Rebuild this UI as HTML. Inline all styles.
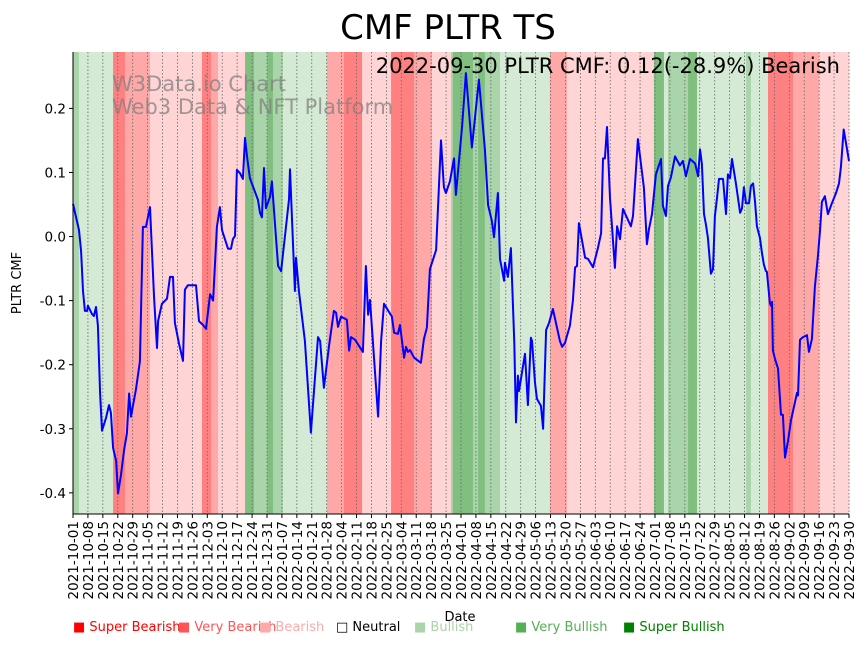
<!DOCTYPE html>
<html><head><meta charset="utf-8"><style>
body{margin:0;background:#fff;font-family:"DejaVu Sans","Liberation Sans",sans-serif}
#wrap{position:relative;width:864px;height:646px}
.leg{position:absolute;top:620px;font-size:13px;white-space:nowrap}
svg text{font-family:"DejaVu Sans","Liberation Sans",sans-serif}
</style></head><body>
<div id="wrap">
<svg id="svg" width="864" height="646" style="position:absolute;left:0;top:0"></svg>
<div class="leg" style="left:73px;color:#ff0000">■ Super Bearish</div>
<div class="leg" style="left:178px;color:#ff5555">■ Very Bearish</div>
<div class="leg" style="left:259px;color:#ffaaaa">■ Bearish</div>
<div class="leg" style="left:336px;color:#000">□ Neutral</div>
<div class="leg" style="left:414px;color:#aad4aa">■ Bullish</div>
<div class="leg" style="left:515px;color:#55b055">■ Very Bullish</div>
<div class="leg" style="left:623px;color:#008000">■ Super Bullish</div>
</div>
<script>
const startDate = '2021-10-01';
const totalDays = 364;
const yTicks = [-0.4,-0.3,-0.2,-0.1,0.0,0.1,0.2];
const dayIdx = [
0,2.8,3.8,4.7,5.6,6.6,7.0,8.9,9.8,10.8,
11.7,12.7,13.6,15.5,16.9,17.8,18.8,20.2,21.1,22.5,
23.9,25.3,26.3,27.2,29.5,31.4,32.8,34.2,36.1,38.0,
39.4,39.9,41.7,44.1,45.5,46.9,47.8,49.7,51.6,52.5,
53.9,57.7,59.1,61.0,62.4,64.3,65.7,67.5,68.9,69.9,
72.7,74.1,75.0,76.0,76.9,78.3,79.7,80.7,81.6,83.0,
86.8,87.7,88.6,89.6,90.5,92.4,93.3,95.2,96.2,97.6,
101.3,101.8,104.1,104.6,106.0,108.8,111.6,114.9,115.9,117.7,
120.1,122.4,123.4,124.3,125.7,128.5,129.5,130.4,132.3,136.0,
137.4,138.4,139.3,143.1,144.5,145.9,149.6,150.6,152.4,153.4,
155.3,156.2,157.1,158.1,160.0,163.2,164.6,166.0,167.4,170.3,
172.6,174.0,174.9,176.8,178.7,179.6,182.5,184.3,187.1,190.4,
193.2,194.7,196.5,197.5,199.3,200.3,202.2,202.6,204.0,205.4,
207.0,207.8,208.7,209.2,212.0,213.4,214.8,215.3,216.7,217.6,
219.5,220.5,221.9,223.3,225.1,228.4,229.4,230.8,233.1,234.5,
235.5,236.4,237.3,240.2,241.6,243.9,246.2,247.7,248.6,249.5,
250.5,251.9,254.2,255.2,256.6,258.0,261.7,262.7,265.0,267.8,
269.2,270.2,271.6,273.4,275.8,276.7,278.1,279.1,280.5,282.4,
284.7,286.1,287.5,289.4,291.8,293.2,294.1,295.0,296.0,296.9,
297.8,299.2,300.2,301.1,302.1,303.0,304.9,306.3,307.2,308.2,
309.1,311.0,312.9,313.8,314.7,315.7,317.1,318.0,319.0,319.9,
320.8,322.2,323.2,324.1,325.0,325.5,326.9,327.4,327.9,328.3,
329.3,330.7,332.1,333.0,334.0,335.4,336.8,338.6,339.6,340.1,
341.0,342.4,344.3,345.2,346.6,348.0,349.4,350.4,351.3,352.7,
354.1,356.0,357.9,359.3,360.2,361.5,364];
const cmfValues = [
0.051,0.010,-0.023,-0.085,-0.116,-0.116,-0.108,-0.121,-0.124,-0.110,
-0.139,-0.245,-0.303,-0.283,-0.263,-0.275,-0.330,-0.350,-0.401,-0.372,
-0.334,-0.307,-0.245,-0.281,-0.239,-0.195,0.015,0.015,0.046,-0.093,
-0.174,-0.132,-0.105,-0.097,-0.063,-0.063,-0.135,-0.167,-0.194,-0.083,
-0.076,-0.076,-0.132,-0.138,-0.144,-0.090,-0.100,0.015,0.046,0.010,
-0.019,-0.019,-0.004,0.001,0.104,0.099,0.090,0.154,0.125,0.091,
0.057,0.037,0.030,0.107,0.044,0.062,0.086,-0.002,-0.046,-0.054,
0.058,0.105,-0.085,-0.033,-0.086,-0.163,-0.306,-0.157,-0.163,-0.236,
-0.171,-0.116,-0.119,-0.141,-0.125,-0.130,-0.178,-0.157,-0.161,-0.180,
-0.046,-0.122,-0.099,-0.281,-0.163,-0.105,-0.125,-0.150,-0.152,-0.138,
-0.189,-0.172,-0.180,-0.177,-0.189,-0.197,-0.160,-0.142,-0.051,-0.021,
0.150,0.077,0.068,0.086,0.122,0.065,0.172,0.255,0.139,0.245,
0.136,0.049,0.024,-0.001,0.068,-0.035,-0.069,-0.041,-0.063,-0.018,
-0.166,-0.290,-0.217,-0.241,-0.183,-0.263,-0.158,-0.163,-0.228,-0.253,
-0.264,-0.300,-0.146,-0.135,-0.113,-0.163,-0.172,-0.166,-0.139,-0.100,
-0.048,-0.046,0.021,-0.033,-0.035,-0.048,-0.018,0.005,0.122,0.122,
0.171,0.060,-0.049,0.016,-0.004,0.043,0.016,0.032,0.152,0.076,
-0.012,0.012,0.035,0.097,0.121,0.048,0.032,0.079,0.093,0.125,
0.111,0.118,0.094,0.121,0.114,0.094,0.136,0.113,0.035,0.018,
-0.002,-0.058,-0.051,0.032,0.060,0.090,0.090,0.035,0.097,0.091,
0.121,0.082,0.037,0.044,0.077,0.052,0.052,0.079,0.083,0.055,
0.016,-0.002,-0.026,-0.044,-0.054,-0.055,-0.104,-0.108,-0.102,-0.178,
-0.191,-0.206,-0.278,-0.278,-0.345,-0.319,-0.287,-0.259,-0.244,-0.248,
-0.161,-0.157,-0.154,-0.180,-0.160,-0.078,-0.031,0.009,0.054,0.063,
0.035,0.052,0.068,0.083,0.108,0.167,0.118];
const bandStart = [0,2.8,18.8,24.4,36.1,60.5,64.7,68,80.7,84.9,91,93.8,98.5,119.1,127.1,135.6,149.2,160,168.4,177.3,178.2,187.6,190,193.2,200.3,223.7,231.7,272.5,277.2,279.1,288.5,292.7,315.7,318,326,337.7,349.9];
const bandEnd = [2.8,18.8,24.4,36.1,60.5,64.7,68,80.7,84.9,91,93.8,98.5,119.1,127.1,135.6,149.2,160,168.4,177.3,178.2,187.6,190,193.2,200.3,223.7,231.7,272.5,277.2,279.1,288.5,292.7,315.7,318,326,337.7,349.9,364];
const bandLevel = [2,1,-3,-2,-1,-3,-2,-1,3,2,3,2,1,-2,-3,-1,-3,-2,-1,2,3,2,3,2,1,-2,-1,3,1,2,3,1,2,1,-3,-2,-1];

const L=73,R=849,T=52,B=514;
const yMin=-0.433,yMax=0.288;
const xs=d=>L+(d/totalDays)*(R-L);
const ys=v=>B-(v-yMin)/(yMax-yMin)*(B-T);
const colors={'-3':'#ff8080','-2':'#ffa8a8','-1':'#ffd4d4','1':'#d4ead4','2':'#aad5aa','3':'#80bf80'};
const svg=document.getElementById('svg');
const NS='http://www.w3.org/2000/svg';
function mk(tag,attrs,parent){const e=document.createElementNS(NS,tag);for(const k in attrs)e.setAttribute(k,attrs[k]);(parent||svg).appendChild(e);return e;}

const bg=mk('g',{});


for(let i=0;i<bandStart.length;i++){
  const r=mk('rect',{x:xs(bandStart[i]),y:T,width:xs(bandEnd[i])-xs(bandStart[i])+0.3,height:B-T,fill:colors[bandLevel[i]]},bg);
  
  
}
const sd=new Date(startDate+'T00:00:00Z');
for(let d=0;d<=totalDays;d+=7){
  const x=xs(d);
  const g=mk('line',{x1:x,x2:x,y1:T,y2:B,stroke:'#666','stroke-width':0.8,'stroke-dasharray':'1.5,2'});
  
  
  mk('line',{x1:x,x2:x,y1:B,y2:B+4,stroke:'#000','stroke-width':1});
  const dt=new Date(sd.getTime()+d*86400000);
  const lab=dt.toISOString().slice(0,10);
  const t=mk('text',{x:0,y:0,'font-size':13.5,'text-anchor':'end',transform:`translate(${x+5},${B+7}) rotate(-90)`});
  t.textContent=lab;
  
  
}
yTicks.forEach(v=>{
  const y=ys(v);
  mk('line',{x1:L-4,x2:L,y1:y,y2:y,stroke:'#000'});
  const t=mk('text',{x:L-7,y:y+5,'font-size':13.5,'text-anchor':'end'});
  t.textContent=v.toFixed(1);
  
  
});
let dstr='';
for(let i=0;i<dayIdx.length;i++){dstr+=(i?'L':'M')+xs(dayIdx[i]).toFixed(1)+','+ys(cmfValues[i]).toFixed(1);}
const p=mk('path',{d:dstr,fill:'none',stroke:'#0000ff','stroke-width':2,'stroke-linejoin':'round'});


mk('line',{x1:L,x2:L,y1:T,y2:B,stroke:'#000','stroke-width':1});
mk('line',{x1:L,x2:R,y1:B,y2:B,stroke:'#000','stroke-width':1});
function txt(s,a,name){const t=mk('text',a);t.textContent=s;return t;}
txt('CMF PLTR TS',{x:448,y:39,'font-size':34,'text-anchor':'middle'},'chart-title');
txt('2022-09-30 PLTR CMF: 0.12(-28.9%) Bearish',{x:840,y:73,'font-size':21,'text-anchor':'end'},'latest-value-label');
txt('W3Data.io Chart',{x:112,y:91,'font-size':21,fill:'#808080','fill-opacity':0.75},'watermark-line1');
txt('Web3 Data & NFT Platform',{x:112,y:114,'font-size':21,fill:'#808080','fill-opacity':0.75},'watermark-line2');
txt('PLTR CMF',{x:0,y:0,'font-size':13,'text-anchor':'middle',transform:'translate(21,283) rotate(-90)'},'y-axis-title');
txt('Date',{x:460,y:621,'font-size':13,'text-anchor':'middle'},'x-axis-title');
</script>
</body></html>
